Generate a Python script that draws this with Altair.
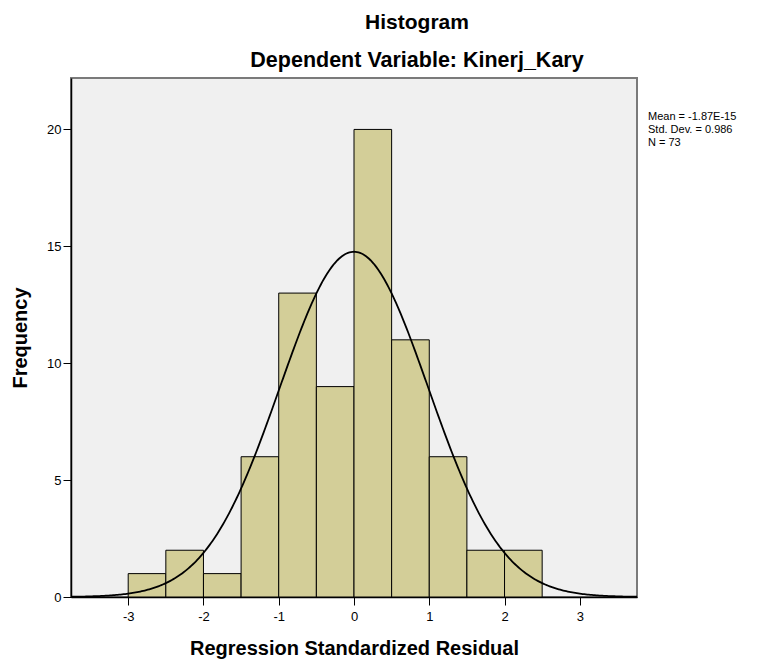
import altair as alt
import pandas as pd

# ---- data ----
bin_start = [-3.0, -2.5, -2.0, -1.5, -1.0, -0.5, 0.0, 0.5, 1.0, 1.5, 2.0]
counts = [1, 2, 1, 6, 13, 9, 20, 11, 6, 2, 2]
bin_width = 0.5
mean_val = -1.87e-15
sd_val = 0.986
n_val = 73
x_ticks = [-3, -2, -1, 0, 1, 2, 3]
y_ticks = [0, 5, 10, 15, 20]
stats_lines = ["Mean = -1.87E-15", "Std. Dev. = 0.986", "N = 73"]

x_domain = [-3.76, 3.76]
y_domain = [0, 22.2]

bars_df = pd.DataFrame({
    "start": bin_start,
    "end": [b + bin_width for b in bin_start],
    "count": counts,
})

W, H = 566, 519

xscale = alt.Scale(domain=x_domain, nice=False, zero=False)
yscale = alt.Scale(domain=y_domain, nice=False)

bars = alt.Chart(bars_df).mark_bar(
    fill="#D3CE98", stroke="#000000", strokeWidth=1
).encode(
    x=alt.X("start:Q", scale=xscale,
            axis=alt.Axis(values=x_ticks, title="Regression Standardized Residual",
                          labelExpr="datum.value + ''")),
    x2="end:Q",
    y=alt.Y("count:Q", scale=yscale,
            axis=alt.Axis(values=y_ticks, title="Frequency",
                          labelExpr="datum.value + ''")),
    y2=alt.Y2(datum=0),
)

curve = alt.Chart(alt.sequence(x_domain[0], x_domain[1] + 0.001, 0.02, as_="x")).transform_calculate(
    dens=f"{n_val}*{bin_width}/({sd_val}*sqrt(2*PI))*exp(-0.5*pow((datum.x-({mean_val}))/{sd_val},2))"
).mark_line(color="#000000", strokeWidth=1.8).encode(
    x=alt.X("x:Q", scale=xscale),
    y=alt.Y("dens:Q", scale=yscale),
)

stats = alt.Chart(pd.DataFrame({"t": ["\n".join(stats_lines)]})).mark_text(
    align="left", baseline="top", fontSize=11, font="Liberation Sans",
    lineBreak="\n", lineHeight=13, color="#000000"
).encode(
    text="t:N",
    x=alt.value(W + 11),
    y=alt.value(33),
)

chart = alt.layer(bars, curve, stats).properties(
    width=W,
    height=H,
    padding={"left": 63, "top": 70, "right": 120, "bottom": 62},
    autosize=alt.AutoSizeParams(type="none"),
    title=alt.TitleParams(
        text="Histogram",
        subtitle="Dependent Variable: Kinerj_Kary",
        font="Liberation Sans",
        fontSize=21,
        fontWeight="bold",
        color="#000000",
        subtitleFont="Liberation Sans",
        subtitleFontSize=21.5,
        subtitleFontWeight="bold",
        subtitleColor="#000000",
        subtitlePadding=17,
        anchor="middle",
        dx=63,
        offset=7,
    ),
).configure_view(
    fill="#F0F0F0", stroke="#7A7A7A", strokeWidth=2
).configure_axis(
    grid=False,
    domainColor="#000000",
    domainWidth=1.5,
    tickColor="#000000",
    tickSize=8,
    tickWidth=1,
    labelFont="Liberation Sans",
    labelFontSize=13,
    labelColor="#000000",
    titleFont="Liberation Sans",
    titleFontSize=20,
    titleFontWeight="bold",
    titleColor="#000000",
).configure_axisX(
    labelPadding=5, titlePadding=15
).configure_axisY(
    labelPadding=2, titlePadding=16
)

chart.save("out.html", embed_options={"renderer": "svg", "actions": False})
